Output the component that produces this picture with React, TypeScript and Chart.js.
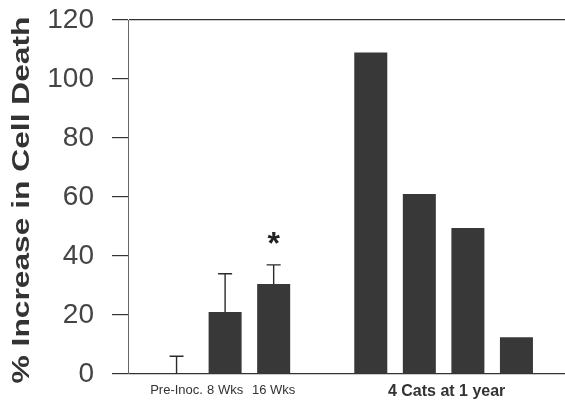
import React, { useEffect, useRef } from "react";
import { Chart, registerables } from "chart.js";

Chart.register(...registerables);

const categories = ["", "Pre-Inoc.", "8 Wks", "16 Wks", "", "", "", "", "", ""];
const values = [null, 0, 21, 30.5, null, 109, 61, 49.5, 12.5, null];
const errors = [null, 6, 13, 6.5, null, null, null, null, null, null];
const significant = [false, false, false, true, false, false, false, false, false, false];
const groupLabel = "4 Cats at 1 year";
const groupFrom = 5;
const groupTo = 8;
const yTitle = "% Increase in Cell Death";
const yTicks = [0, 20, 40, 60, 80, 100, 120];

const FONT = "'Liberation Sans', Arial, sans-serif";

const extrasPlugin = {
  id: "extras",
  afterDatasetsDraw(chart: any) {
    const { ctx, scales, chartArea } = chart;
    const x = scales.x;
    const y = scales.y;
    ctx.save();
    // error bars
    ctx.strokeStyle = "#2a2a2a";
    ctx.lineWidth = 1.4;
    values.forEach((v, i) => {
      const e = errors[i];
      if (v === null || e === null) return;
      const px = x.getPixelForValue(i);
      const y0 = y.getPixelForValue(v);
      const y1 = y.getPixelForValue(v + e);
      ctx.beginPath();
      ctx.moveTo(px, y0);
      ctx.lineTo(px, y1);
      ctx.moveTo(px - 7, y1);
      ctx.lineTo(px + 7, y1);
      ctx.stroke();
      if (significant[i]) {
        ctx.fillStyle = "#222";
        ctx.font = `bold 32px ${FONT}`;
        ctx.textAlign = "center";
        ctx.textBaseline = "middle";
        ctx.fillText("*", px, y1 - 20);
      }
    });
    // group label
    const gx = (x.getPixelForValue(groupFrom) + x.getPixelForValue(groupTo)) / 2;
    ctx.fillStyle = "#333";
    ctx.font = `bold 16px ${FONT}`;
    ctx.textAlign = "center";
    ctx.textBaseline = "middle";
    ctx.fillText(groupLabel, gx + 3, chartArea.bottom + 18);
    // y title (stretched)
    const cy = (chartArea.top + chartArea.bottom) / 2 + 3;
    ctx.translate(23, cy);
    ctx.rotate(-Math.PI / 2);
    ctx.scale(1.38, 1);
    ctx.fillStyle = "#333";
    ctx.font = `bold 23px ${FONT}`;
    ctx.textAlign = "center";
    ctx.textBaseline = "middle";
    ctx.fillText(yTitle, 0, 0);
    ctx.restore();
  },
};

export default function App() {
  const ref = useRef<HTMLCanvasElement | null>(null);
  useEffect(() => {
    if (!ref.current) return;
    const chart = new Chart(ref.current, {
      type: "bar",
      data: {
        labels: categories,
        datasets: [
          {
            data: values as any,
            backgroundColor: "#383838",
            borderWidth: 0,
            barPercentage: 0.68,
            categoryPercentage: 1,
          },
        ],
      },
      options: {
        responsive: true,
        maintainAspectRatio: false,
        animation: false,
        layout: { padding: { left: 47, top: 20, right: 0, bottom: 5 } },
        plugins: { legend: { display: false }, tooltip: { enabled: false } },
        scales: {
          x: {
            type: "category",
            offset: false,
            grid: { display: false, drawTicks: false },
            border: { display: false },
            afterFit: (s: any) => {
              s.height = 25;
              s.paddingLeft = 0;
              s.paddingRight = 0;
            },
            ticks: {
              color: "#333",
              font: { family: FONT, size: 13 },
              padding: 9,
              maxRotation: 0,
              autoSkip: false,
            },
          },
          y: {
            min: 0,
            max: 120,
            afterBuildTicks: (s: any) => {
              s.ticks = yTicks.map((v) => ({ value: v }));
            },
            afterFit: (s: any) => {
              s.width = 81;
              s.paddingTop = 0;
              s.paddingBottom = 0;
            },
            grid: {
              drawOnChartArea: true,
              color: (c: any) =>
                c.tick && (c.tick.value === 0 || c.tick.value === 120) ? "#333" : "rgba(0,0,0,0)",
              tickColor: "#333",
              tickLength: 16,
              lineWidth: 1.2,
            },
            border: { display: true, color: "#666", width: 1 },
            ticks: {
              color: "#444",
              font: { family: FONT, size: 28 },
              padding: 18,
            },
          },
        },
      },
      plugins: [extrasPlugin],
    });
    return () => chart.destroy();
  }, []);
  return (
    <div style={{ position: "absolute", left: 0, top: 0, width: 565, height: 404, background: "#fff" }}>
      <canvas ref={ref} />
    </div>
  );
}
